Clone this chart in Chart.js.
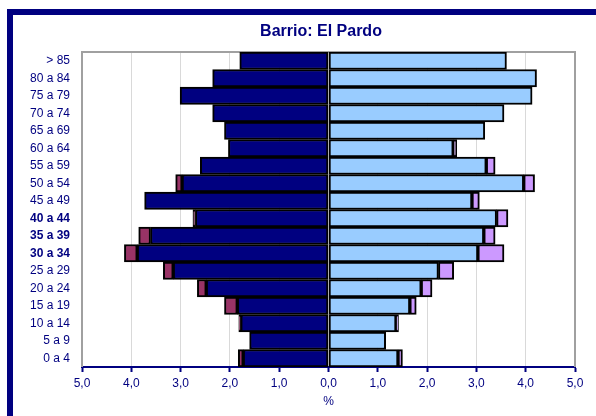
<!DOCTYPE html>
<html>
<head>
<meta charset="utf-8">
<script src="https://cdn.jsdelivr.net/npm/chart.js@4.4.1/dist/chart.umd.min.js"></script>
<style>
    html, body { margin: 0; padding: 0; background: #fff; overflow: hidden; }
    #frame { position: absolute; left: 7px; top: 9px; width: 700px; height: 500px; border: 6px solid #000080; }
    #pyramid { position: absolute; left: 0; top: 0; }
</style>
</head>
<body>
<div id="frame"></div>
<canvas id="pyramid" width="596" height="416"></canvas>
<script>
var chartTitle = 'Barrio: El Pardo';
var ageGroups = ['> 85', '80 a 84', '75 a 79', '70 a 74', '65 a 69', '60 a 64', '55 a 59', '50 a 54', '45 a 49',
    '40 a 44', '35 a 39', '30 a 34', '25 a 29', '20 a 24', '15 a 19', '10 a 14', '5 a 9', '0 a 4'];
var boldGroups = ['40 a 44', '35 a 39', '30 a 34'];

// % of population, men (left side)
var menSpanish = [1.80, 2.35, 3.01, 2.35, 2.11, 2.03, 2.60, 2.97, 3.73, 2.70, 3.61, 3.88, 3.15, 2.48, 1.85, 1.78, 1.60, 1.73];
var menForeign = [0, 0, 0, 0, 0, 0, 0, 0.13, 0, 0.05, 0.24, 0.26, 0.20, 0.18, 0.26, 0.04, 0, 0.10];
// % of population, women (right side)
var womenSpanish = [3.61, 4.22, 4.13, 3.56, 3.17, 2.53, 3.20, 3.96, 2.91, 3.41, 3.15, 3.03, 2.23, 1.88, 1.65, 1.37, 1.16, 1.41];
var womenForeign = [0, 0, 0, 0, 0, 0.07, 0.18, 0.22, 0.15, 0.23, 0.23, 0.53, 0.31, 0.22, 0.13, 0.05, 0, 0.09];

var navy = '#000080';
var fontFamily = '"Liberation Sans", Arial, sans-serif';
Chart.defaults.font.family = fontFamily;
Chart.defaults.color = navy;

function neg(arr) { return arr.map(function (v) { return -v; }); }

var titlePlugin = {
    id: 'chartTitle',
    afterDraw: function (chart) {
        var c = chart.ctx;
        c.save();
        c.fillStyle = navy;
        c.font = 'bold 16px ' + fontFamily;
        c.textAlign = 'center';
        c.textBaseline = 'middle';
        c.fillText(chartTitle, 321, 32);
        c.restore();
    }
};

var plotFrame = {
    id: 'plotFrame',
    beforeDatasetsDraw: function (chart) {
        var a = chart.chartArea, c = chart.ctx;
        c.save();
        c.strokeStyle = '#a0a0a0';
        c.lineWidth = 2;
        c.beginPath();
        c.moveTo(a.left, a.bottom);
        c.lineTo(a.left, a.top);
        c.lineTo(a.right, a.top);
        c.lineTo(a.right, a.bottom);
        c.stroke();
        c.restore();
    }
};

function bars(data, color) {
    return {
        data: data,
        backgroundColor: color,
        borderColor: '#000000',
        borderWidth: 2,
        borderSkipped: false,
        barPercentage: 1,
        categoryPercentage: 1
    };
}

var ctx = document.getElementById('pyramid').getContext('2d');
var myChart = new Chart(ctx, {
    type: 'bar',
    data: {
        labels: ageGroups,
        datasets: [
            bars(neg(menSpanish), '#000080'),
            bars(neg(menForeign), '#993366'),
            bars(womenSpanish, '#99ccff'),
            bars(womenForeign, '#cc99ff')
        ]
    },
    options: {
        indexAxis: 'y',
        responsive: false,
        devicePixelRatio: 1,
        animation: false,
        layout: { padding: { left: 14, right: 21, top: 52, bottom: 0 } },
        plugins: {
            legend: { display: false },
            tooltip: { enabled: false }
        },
        scales: {
            x: {
                stacked: true,
                min: -5,
                max: 5,
                ticks: {
                    stepSize: 1,
                    padding: 4,
                    color: navy,
                    font: { size: 12 },
                    callback: function (v) { return Math.abs(v).toFixed(1).replace('.', ','); }
                },
                grid: { color: '#d9d9d9', lineWidth: 1, tickColor: navy, tickLength: 5, tickWidth: 2 },
                border: { color: navy, width: 2 },
                title: { display: true, text: '%', color: navy, font: { size: 12 }, padding: { top: 4, bottom: 7 } },
                afterFit: function (scale) { scale.height = 49; }
            },
            y: {
                stacked: true,
                ticks: {
                    padding: 12,
                    color: navy,
                    font: function (c) {
                        var bold = boldGroups.indexOf(ageGroups[c.index]) >= 0;
                        return { size: 12, weight: bold ? 'bold' : 'normal' };
                    }
                },
                grid: { display: false, drawTicks: false },
                border: { display: false },
                afterFit: function (scale) { scale.width = 68; }
            }
        }
    },
    plugins: [plotFrame, titlePlugin]
});
</script>
</body>
</html>
